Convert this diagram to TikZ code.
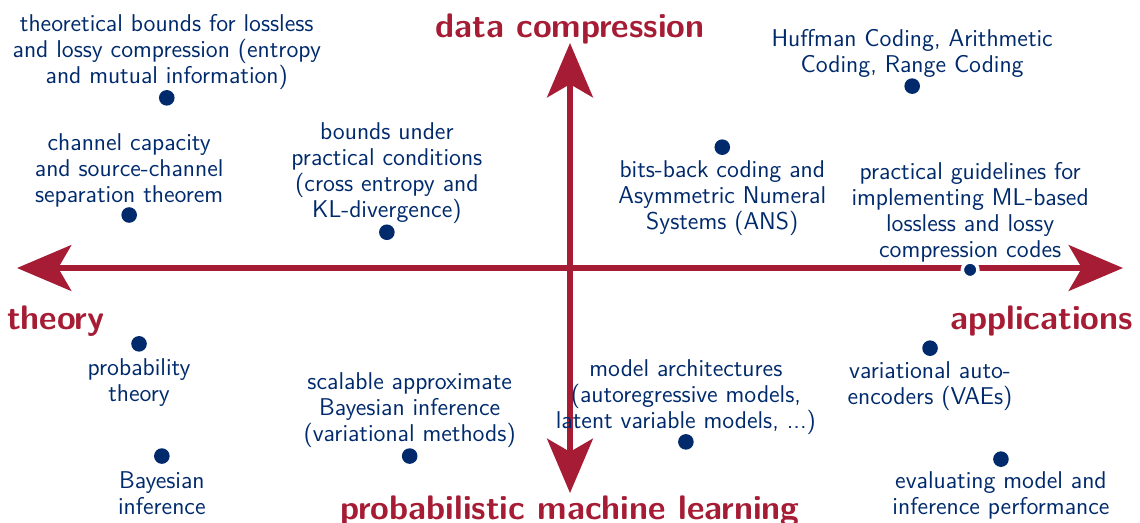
\documentclass[tikz,border=0pt]{standalone}
\usepackage{tikz}
\usetikzlibrary{positioning,arrows.meta}
\renewcommand{\familydefault}{\sfdefault}
\definecolor{crimson}{RGB}{165,28,52}
\definecolor{navy}{RGB}{0,42,108}

\begin{document}
\begin{tikzpicture}[
  dot/.style={circle, fill=navy, inner sep=0pt, minimum size=7.2pt},
  note/.style={text=navy, align=center, inner sep=1pt, font=\fontsize{11.2}{12}\selectfont},
  topic/.style={text=crimson, font=\fontsize{15.7}{18}\selectfont\bfseries},
  axis/.style={crimson, line width=3.2pt, <->, >={Stealth[length=25pt, width=21pt, inset=6pt]}},
  node distance=2pt]

  \def\axX{8.97}
  \def\axY{3.65}

  \useasboundingbox (-9.245,-4.12) rectangle (9.245,4.347);

  % axes
  \coordinate (west) at (-\axX,0);
  \coordinate (east) at (\axX,0);
  \coordinate (north) at (0,\axY);
  \coordinate (south) at (0,-\axY);
  \draw[axis] (west) -- (east);
  \draw[axis] (south) -- (north);

  \node[topic] (compr) at (0,3.87) {data compression};
  \node[topic] (pml) at (0,-3.95) {probabilistic machine learning};
  \node[topic] (theory) at (-8.34,-0.86) {theory};
  \node[topic] (apps) at (7.65,-0.86) {applications};

  % upper left: theory of compression
  \node[dot] (bnd) at (-6.54,2.76) {};
  \node[note, above=-1pt of bnd] (bnd-t) {theoretical bounds for lossless\\and lossy compression (entropy\\and mutual information)};
  \node[dot] (chan) at (-7.15,0.86) {};
  \node[note, above=-1.2pt of chan] (chan-t) {channel capacity\\and source-channel\\separation theorem};
  \node[dot] (xent) at (-2.97,0.58) {};
  \node[note, above=-1pt of xent] (xent-t) {bounds under\\practical conditions\\(cross entropy and\\KL-divergence)};

  % upper right: coding
  \node[dot] (bbans) at (2.47,1.96) {};
  \node[note, below=1pt of bbans] (bbans-t) {bits-back coding and\\Asymmetric Numeral\\Systems (ANS)};
  \node[dot] (huff) at (5.55,2.95) {};
  \node[note, above=-1pt of huff] (huff-t) {Huffman Coding, Arithmetic\\Coding, Range Coding};
  \node[dot, draw=white, line width=1.6pt] (guide) at (6.49,-0.03) {};
  \node[note, above=-2pt of guide] (guide-t) {practical guidelines for\\implementing ML-based\\lossless and lossy\\compression codes};

  % lower left: inference
  \node[dot] (prob) at (-6.99,-1.23) {};
  \node[note, below=of prob] (prob-t) {probability\\theory};
  \node[dot] (bayes) at (-6.62,-3.05) {};
  \node[note, below=of bayes] (bayes-t) {Bayesian\\inference};
  \node[dot] (vi) at (-2.6,-3.05) {};
  \node[note, above=-1pt of vi] (vi-t) {scalable approximate\\Bayesian inference\\(variational methods)};

  % lower right: models
  \node[dot] (arch) at (1.88,-2.82) {};
  \node[note, above=-1.6pt of arch] (arch-t) {model architectures\\(autoregressive models,\\latent variable models, ...)};
  \node[dot] (vae) at (5.84,-1.3) {};
  \node[note, below=1pt of vae] (vae-t) {variational auto-\\encoders (VAEs)};
  \node[dot] (eval) at (6.99,-3.1) {};
  \node[note, below=1pt of eval] (eval-t) {evaluating model and\\inference performance};

\end{tikzpicture}
\end{document}
